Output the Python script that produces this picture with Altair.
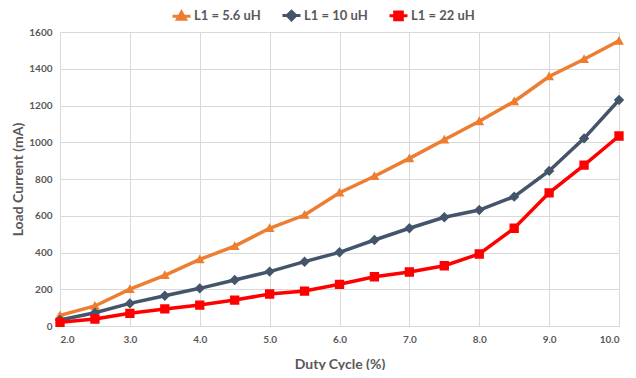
import altair as alt
import pandas as pd

duty = [2.0, 2.5, 3.0, 3.5, 4.0, 4.5, 5.0, 5.5, 6.0, 6.5, 7.0, 7.5, 8.0, 8.5, 9.0, 9.5, 10.0]
l56 = [58, 109, 201, 276, 362, 435, 532, 604, 725, 815, 912, 1014, 1114, 1222, 1358, 1452, 1552]
l10 = [33, 72, 123, 165, 205, 250, 296, 350, 401, 468, 532, 592, 631, 704, 844, 1021, 1230]
l22 = [20, 38, 69, 93, 114, 141, 174, 190, 227, 268, 294, 328, 392, 532, 725, 876, 1034]

series = ["L1 = 5.6 uH", "L1 = 10 uH", "L1 = 22 uH"]
colors = ["#ED7D31", "#44546A", "#FF0000"]
shapes = [
    "M-2,0H2M0,-0.9L0.9,0.7H-0.9Z",
    "M-2,0H2M0,-0.95L0.95,0L0,0.95L-0.95,0Z",
    "M-2,0H2M-0.85,-0.85H0.85V0.85H-0.85Z",
]

rows = []
for name, vals in zip(series, [l56, l10, l22]):
    for x, v in zip(duty, vals):
        rows.append({"duty": x, "current": v, "series": name})
df = pd.DataFrame(rows)

font = "Lato"
gray = "#595959"

x = alt.X("duty:Q", title="Duty Cycle (%)",
          scale=alt.Scale(domain=[2, 10], nice=False),
          axis=alt.Axis(values=[2, 3, 4, 5, 6, 7, 8, 9, 10], format=".1f",
                        labelPadding=8, titlePadding=13))
y = alt.Y("current:Q", title="Load Current (mA)",
          scale=alt.Scale(domain=[0, 1600], nice=False),
          axis=alt.Axis(values=list(range(0, 1601, 200)), format="d",
                        labelPadding=8, titlePadding=3))

leg = alt.Legend(title=None, orient="none", direction="horizontal",
                 legendX=115, legendY=-23, symbolSize=81,
                 symbolStrokeWidth=3, labelOffset=6,
                 columnPadding=15, symbolOpacity=1,
                 labelFont=font, labelFontSize=13,
                 labelFontWeight="bold", labelColor=gray)

cscale = alt.Scale(domain=series, range=colors)

lines = alt.Chart(df).mark_line(strokeWidth=3.5).encode(
    x=x, y=y, color=alt.Color("series:N", sort=series, scale=cscale, legend=leg),
    detail="series:N")

points = alt.Chart(df).mark_point(filled=True, size=120, opacity=1, strokeWidth=0).encode(
    x=x, y=y,
    color=alt.Color("series:N", sort=series, scale=cscale, legend=leg),
    stroke=alt.Stroke("series:N", sort=series, scale=cscale, legend=leg),
    shape=alt.Shape("series:N", sort=series, scale=alt.Scale(domain=series, range=shapes),
                    legend=leg),
)

chart = alt.layer(lines, points).properties(
    width=559, height=294,
    autosize=alt.AutoSizeParams(type="none"),
    padding={"left": 52, "top": 24, "right": 9, "bottom": 44},
).configure_view(stroke=None).configure_axis(
    labelFont=font, labelFontSize=10, labelFontWeight="bold", labelColor=gray,
    titleFont=font, titleFontSize=14, titleFontWeight="bold", titleColor=gray,
    gridColor="#D9D9D9", domainColor="#D9D9D9", ticks=False,
)

chart.save("out.html", embed_options={"renderer": "svg", "actions": False})
